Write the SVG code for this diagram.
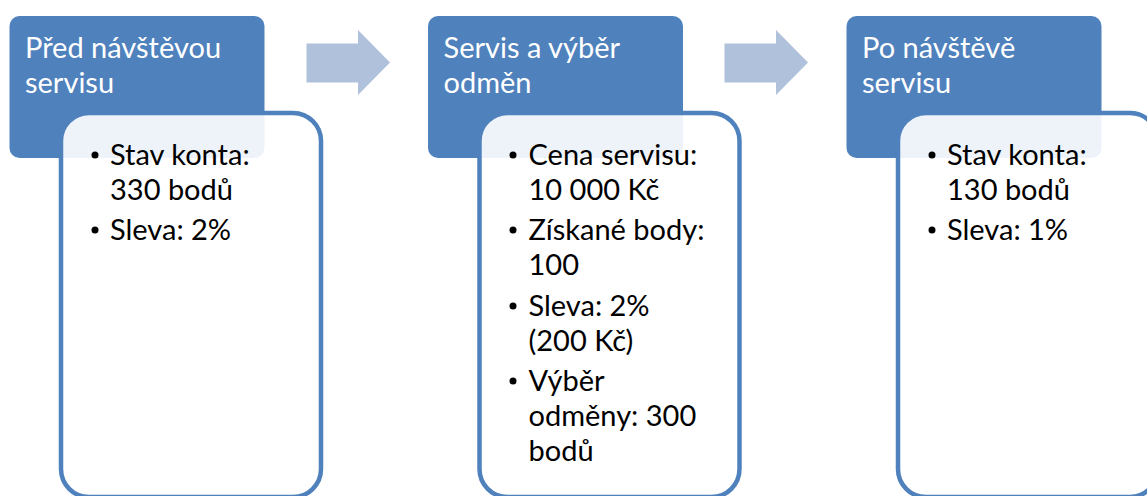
<svg xmlns="http://www.w3.org/2000/svg" width="1147" height="496" viewBox="0 0 1147 496">
  <style>
    .head { fill: #4F81BD; }
    .body { fill: #FFFFFF; fill-opacity: 0.9; stroke: #4F81BD; stroke-width: 4.5; }
    .arrow { fill: #B0C1DC; }
    .ht { font-family: Lato, "Open Sans", "Liberation Sans", sans-serif; font-size: 29px; fill: #FFFFFF; }
    .bt { font-family: Lato, "Open Sans", "Liberation Sans", sans-serif; font-size: 29px; fill: #000000; }
    .dot { fill: #000000; }
  </style>

  <!-- connectors: block arrows between the stages -->
  <g id="connectors">
    <polygon class="arrow" points="306.5,43.5 358,43.5 358,30 390,62.5 358,95 358,82.5 306.5,82.5"/>
    <polygon class="arrow" points="724.5,43.5 776,43.5 776,30 808,62.5 776,95 776,82.5 724.5,82.5"/>
  </g>

  <!-- stage 1 -->
  <g id="stage1">
    <rect class="head" x="9.5" y="16" width="255" height="142" rx="10"/>
    <text class="ht" x="25" y="58">Před návštěvou</text>
    <text class="ht" x="25" y="93">servisu</text>
    <rect class="body" x="61" y="113" width="260" height="384" rx="28"/>
    <circle class="dot" cx="95" cy="155" r="3.5"/>
    <text class="bt" x="110" y="165">Stav konta:</text>
    <text class="bt" x="110" y="200">330 bodů</text>
    <circle class="dot" cx="95" cy="230" r="3.5"/>
    <text class="bt" x="110" y="240">Sleva: 2%</text>
  </g>

  <!-- stage 2 -->
  <g id="stage2">
    <rect class="head" x="428" y="16" width="255" height="142" rx="10"/>
    <text class="ht" x="443.5" y="58">Servis a výběr</text>
    <text class="ht" x="443.5" y="93">odměn</text>
    <rect class="body" x="479.5" y="113" width="260" height="384" rx="28"/>
    <circle class="dot" cx="513" cy="155" r="3.5"/>
    <text class="bt" x="528.5" y="165">Cena servisu:</text>
    <text class="bt" x="528.5" y="200">10 000 Kč</text>
    <circle class="dot" cx="513" cy="230" r="3.5"/>
    <text class="bt" x="528.5" y="240">Získané body:</text>
    <text class="bt" x="528.5" y="275">100</text>
    <circle class="dot" cx="513" cy="306" r="3.5"/>
    <text class="bt" x="528.5" y="316">Sleva: 2%</text>
    <text class="bt" x="528.5" y="351">(200 Kč)</text>
    <circle class="dot" cx="513" cy="381" r="3.5"/>
    <text class="bt" x="528.5" y="391">Výběr</text>
    <text class="bt" x="528.5" y="426">odměny: 300</text>
    <text class="bt" x="528.5" y="461">bodů</text>
  </g>

  <!-- stage 3 -->
  <g id="stage3">
    <rect class="head" x="846.5" y="16" width="255" height="142" rx="10"/>
    <text class="ht" x="862" y="58">Po návštěvě</text>
    <text class="ht" x="862" y="93">servisu</text>
    <rect class="body" x="898" y="113" width="260" height="384" rx="28"/>
    <circle class="dot" cx="932" cy="155" r="3.5"/>
    <text class="bt" x="947" y="165">Stav konta:</text>
    <text class="bt" x="947" y="200">130 bodů</text>
    <circle class="dot" cx="932" cy="230" r="3.5"/>
    <text class="bt" x="947" y="240">Sleva: 1%</text>
  </g>
</svg>
